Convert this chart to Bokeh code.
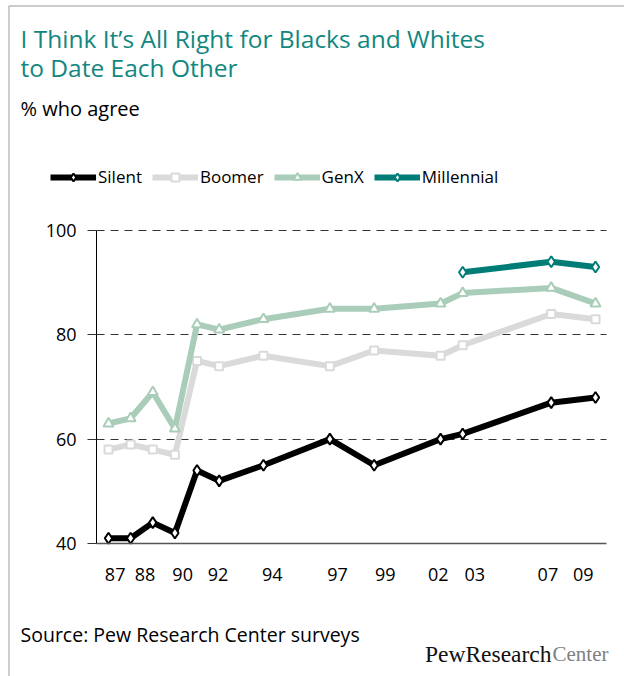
from bokeh.plotting import figure
from bokeh.models import Range1d, Legend, LegendItem, Label, BoxAnnotation, FixedTicker
from bokeh.embed import file_html
from bokeh.resources import INLINE

# ---- data ----
years = [1987, 1988, 1989, 1990, 1991, 1992, 1994, 1997, 1999, 2002, 2003, 2007, 2009]
silent = [41, 41, 44, 42, 54, 52, 55, 60, 55, 60, 61, 67, 68]
boomer = [58, 59, 58, 57, 75, 74, 76, 74, 77, 76, 78, 84, 83]
genx = [63, 64, 69, 62, 82, 81, 83, 85, 85, 86, 88, 89, 86]
millennial_years = [2003, 2007, 2009]
millennial = [92, 94, 93]

tick_labels = ["87", "88", "90", "92", "94", "97", "99", "02", "03", "07", "09"]
# where the reference prints each year label along the axis (in years)
tick_label_positions = [1987.3, 1988.65, 1990.35, 1991.95, 1994.4, 1997.35,
                        1999.5, 2001.9, 2003.55, 2006.85, 2008.45]
y_ticks = [40, 60, 80, 100]
grid_ticks = [60, 80, 100]

# ---- layout ----
W, H = 624, 676
X_AXIS_BOUNDS = (1986.46, 2009.5)   # plotting area in years
Y_AXIS_BOUNDS = (40, 100)
X_RANGE = (1982.121, 2010.31)
Y_RANGE = (14.505, 144.089)
TEAL_TITLE = "#12877F"
SANS = "Open Sans"

# the frame covers the whole canvas; axes are drawn at fixed locations inside it
p = figure(width=W, height=H, output_backend="svg", toolbar_location=None,
           x_range=Range1d(*X_RANGE), y_range=Range1d(*Y_RANGE),
           min_border=0, min_border_left=0, min_border_right=0,
           min_border_top=0, min_border_bottom=0)
p.outline_line_color = None
p.background_fill_color = "white"
p.border_fill_color = "white"

yax = p.yaxis[0]
yax.fixed_location = X_AXIS_BOUNDS[0]
yax.bounds = Y_AXIS_BOUNDS
yax.ticker = FixedTicker(ticks=y_ticks)
yax.axis_line_color = "black"
yax.major_tick_out = 9
yax.major_tick_in = 0
yax.minor_tick_line_color = None
yax.major_tick_line_color = "#333333"
yax.major_label_text_font = SANS
yax.major_label_text_font_size = "18px"
yax.major_label_text_color = "black"
yax.major_label_standoff = 11

xax = p.xaxis[0]
xax.fixed_location = Y_AXIS_BOUNDS[0]
xax.bounds = X_AXIS_BOUNDS
xax.ticker = FixedTicker(ticks=tick_label_positions)
xax.major_label_overrides = {pos: lab for pos, lab in zip(tick_label_positions, tick_labels)}
xax.axis_line_color = "#555555"
xax.axis_line_width = 1.5
xax.major_tick_line_color = None
xax.minor_tick_line_color = None
xax.major_label_text_font = SANS
xax.major_label_text_font_size = "18px"
xax.major_label_text_color = "black"
xax.major_label_standoff = 18

p.xgrid.grid_line_color = None
yg = p.ygrid[0]
yg.ticker = FixedTicker(ticks=grid_ticks)
yg.bounds = Y_AXIS_BOUNDS
yg.cross_bounds = X_AXIS_BOUNDS
yg.grid_line_color = "#333333"
yg.grid_line_dash = "8 6"
yg.grid_line_width = 1

# ---- series ----
series = [
    ("Boomer", years, boomer, "#DADADA", "square", 8),
    ("GenX", years, genx, "#A9CDB9", "triangle", 10),
    ("Millennial", millennial_years, millennial, "#007C77", "diamond", 11),
    ("Silent", years, silent, "#000000", "diamond", 11),
]
items = {}
for name, xs, ys, color, marker, size in series:
    ln = p.line(xs, ys, line_color=color, line_width=6)
    sc = p.scatter(xs, ys, marker=marker, size=size, fill_color="white",
                   line_color=color, line_width=2)
    items[name] = [ln, sc]

legend = Legend(items=[LegendItem(label=n, renderers=items[n]) for n in ["Silent", "Boomer", "GenX", "Millennial"]],
                orientation="horizontal", location=(50, 488),
                glyph_width=46, glyph_height=20, label_standoff=2, spacing=10, padding=0, margin=0,
                border_line_color=None, background_fill_alpha=0,
                label_text_font=SANS, label_text_font_size="17px", label_text_color="black")
p.add_layout(legend, "center")

# ---- texts (screen units, origin at canvas bottom-left; y = vertical middle) ----
def add_text(txt, x, y, size, color="black", font=SANS, align="left", style="normal"):
    p.add_layout(Label(x=x, y=y, x_units="screen", y_units="screen", text=txt,
                       text_font=font, text_font_size=size, text_color=color,
                       text_align=align, text_baseline="middle", text_font_style=style))

add_text("I Think It\u2019s All Right for Blacks and Whites", 20, 638, "24.5px", TEAL_TITLE)
add_text("to Date Each Other", 20, 609, "24.5px", TEAL_TITLE)
add_text("% who agree", 20, 568, "20px")
add_text("Source: Pew Research Center surveys", 20, 42, "19.5px")
add_text("PewResearch", 551, 23, "23.5px", "#111111", "Liberation Serif", "right")
add_text("Center", 552, 23, "21px", "#808080", "Liberation Serif", "left")

# left and top edge of the graphic's border
px_per_year = W / (X_RANGE[1] - X_RANGE[0])
px_per_unit = H / (Y_RANGE[1] - Y_RANGE[0])
p.add_layout(BoxAnnotation(left=X_RANGE[0] + 8.5 / px_per_year, right=X_RANGE[1] + 5,
                           top=Y_RANGE[1] - 5.5 / px_per_unit, bottom=Y_RANGE[0] - 5,
                           fill_alpha=0, line_color="#222222", line_width=1.5))

open("out.html", "w").write(file_html(p, INLINE))
